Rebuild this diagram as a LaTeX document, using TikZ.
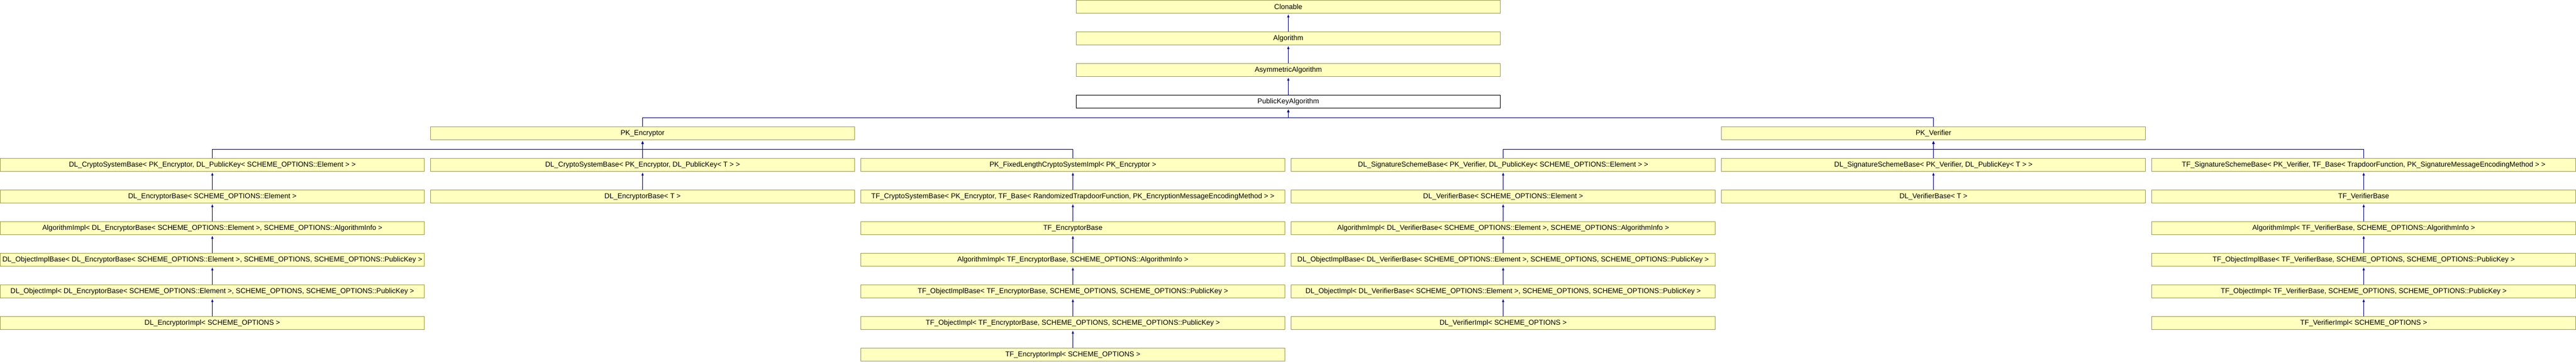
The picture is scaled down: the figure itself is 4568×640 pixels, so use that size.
\documentclass[tikz,border=0pt]{standalone}
\usepackage{fontspec}
\setmainfont{Liberation Sans}
\usetikzlibrary{arrows.meta}
\definecolor{clsfill}{RGB}{255,255,192}
\definecolor{clsline}{RGB}{158,158,88}
\definecolor{inhblue}{RGB}{0,0,128}
\begin{document}
\begin{tikzpicture}[x=1pt, y=-1pt, >={Latex[length=5pt,width=4.5pt]},
    cls/.style={draw=clsline, fill=clsfill, line width=1pt, minimum width=752pt,
        minimum height=23pt, inner sep=0pt, font=\fontsize{12.6}{15}\selectfont},
    cur/.style={cls, draw=black, fill=white},
    inh/.style={->, draw=inhblue, line width=1pt, shorten >=1.5pt}]
\useasboundingbox (0,0) rectangle (4568,640);
% common bases
\node[cls] (clonable) at (2284.5,12) {Clonable};
\node[cls] (algorithm) at (2284.5,68) {Algorithm};
\node[cls] (asymalg) at (2284.5,124) {AsymmetricAlgorithm};
\node[cur] (pkalg) at (2284.5,180) {PublicKeyAlgorithm};
\node[cls] (pkenc) at (1139.5,236) {PK\_Encryptor};
\node[cls] (pkver) at (3428.5,236) {PK\_Verifier};
% encryptor side
\node[cls] (dlcsbA) at (376.5,292) {DL\_CryptoSystemBase< PK\_Encryptor, DL\_PublicKey< SCHEME\_OPTIONS::Element > >};
\node[cls] (dlencA) at (376.5,348) {DL\_EncryptorBase< SCHEME\_OPTIONS::Element >};
\node[cls] (algimplA) at (376.5,404) {AlgorithmImpl< DL\_EncryptorBase< SCHEME\_OPTIONS::Element >, SCHEME\_OPTIONS::AlgorithmInfo >};
\node[cls] (dloibA) at (376.5,460) {DL\_ObjectImplBase< DL\_EncryptorBase< SCHEME\_OPTIONS::Element >, SCHEME\_OPTIONS, SCHEME\_OPTIONS::PublicKey >};
\node[cls] (dloiA) at (376.5,516) {DL\_ObjectImpl< DL\_EncryptorBase< SCHEME\_OPTIONS::Element >, SCHEME\_OPTIONS, SCHEME\_OPTIONS::PublicKey >};
\node[cls] (dlencimpl) at (376.5,572) {DL\_EncryptorImpl< SCHEME\_OPTIONS >};
\node[cls] (dlcsbB) at (1139.5,292) {DL\_CryptoSystemBase< PK\_Encryptor, DL\_PublicKey< T > >};
\node[cls] (dlencB) at (1139.5,348) {DL\_EncryptorBase< T >};
\node[cls] (pkflcsi) at (1902.5,292) {PK\_FixedLengthCryptoSystemImpl< PK\_Encryptor >};
\node[cls] (tfcsb) at (1902.5,348) {TF\_CryptoSystemBase< PK\_Encryptor, TF\_Base< RandomizedTrapdoorFunction, PK\_EncryptionMessageEncodingMethod > >};
\node[cls] (tfencbase) at (1902.5,404) {TF\_EncryptorBase};
\node[cls] (algimplC) at (1902.5,460) {AlgorithmImpl< TF\_EncryptorBase, SCHEME\_OPTIONS::AlgorithmInfo >};
\node[cls] (tfoibC) at (1902.5,516) {TF\_ObjectImplBase< TF\_EncryptorBase, SCHEME\_OPTIONS, SCHEME\_OPTIONS::PublicKey >};
\node[cls] (tfoiC) at (1902.5,572) {TF\_ObjectImpl< TF\_EncryptorBase, SCHEME\_OPTIONS, SCHEME\_OPTIONS::PublicKey >};
\node[cls] (tfencimpl) at (1902.5,628) {TF\_EncryptorImpl< SCHEME\_OPTIONS >};
% verifier side
\node[cls] (dlssbD) at (2665.5,292) {DL\_SignatureSchemeBase< PK\_Verifier, DL\_PublicKey< SCHEME\_OPTIONS::Element > >};
\node[cls] (dlverD) at (2665.5,348) {DL\_VerifierBase< SCHEME\_OPTIONS::Element >};
\node[cls] (algimplD) at (2665.5,404) {AlgorithmImpl< DL\_VerifierBase< SCHEME\_OPTIONS::Element >, SCHEME\_OPTIONS::AlgorithmInfo >};
\node[cls] (dloibD) at (2665.5,460) {DL\_ObjectImplBase< DL\_VerifierBase< SCHEME\_OPTIONS::Element >, SCHEME\_OPTIONS, SCHEME\_OPTIONS::PublicKey >};
\node[cls] (dloiD) at (2665.5,516) {DL\_ObjectImpl< DL\_VerifierBase< SCHEME\_OPTIONS::Element >, SCHEME\_OPTIONS, SCHEME\_OPTIONS::PublicKey >};
\node[cls] (dlverimpl) at (2665.5,572) {DL\_VerifierImpl< SCHEME\_OPTIONS >};
\node[cls] (dlssbE) at (3428.5,292) {DL\_SignatureSchemeBase< PK\_Verifier, DL\_PublicKey< T > >};
\node[cls] (dlverE) at (3428.5,348) {DL\_VerifierBase< T >};
\node[cls] (tfssb) at (4191.5,292) {TF\_SignatureSchemeBase< PK\_Verifier, TF\_Base< TrapdoorFunction, PK\_SignatureMessageEncodingMethod > >};
\node[cls] (tfverbase) at (4191.5,348) {TF\_VerifierBase};
\node[cls] (algimplF) at (4191.5,404) {AlgorithmImpl< TF\_VerifierBase, SCHEME\_OPTIONS::AlgorithmInfo >};
\node[cls] (tfoibF) at (4191.5,460) {TF\_ObjectImplBase< TF\_VerifierBase, SCHEME\_OPTIONS, SCHEME\_OPTIONS::PublicKey >};
\node[cls] (tfoiF) at (4191.5,516) {TF\_ObjectImpl< TF\_VerifierBase, SCHEME\_OPTIONS, SCHEME\_OPTIONS::PublicKey >};
\node[cls] (tfverimpl) at (4191.5,572) {TF\_VerifierImpl< SCHEME\_OPTIONS >};
% bus lines
\coordinate (busalg) at (2284.5,208.5);
\coordinate (busenc) at (1139.5,264.5);
\coordinate (busver) at (3428.5,264.5);
\draw[inh] (pkenc.north) |- (busalg) -- (pkalg.south);
\draw[inh] (pkver.north) |- (busalg) -- (pkalg.south);
\draw[inh] (dlcsbA.north) |- (busenc) -- (pkenc.south);
\draw[inh] (pkflcsi.north) |- (busenc) -- (pkenc.south);
\draw[inh] (dlssbD.north) |- (busver) -- (pkver.south);
\draw[inh] (tfssb.north) |- (busver) -- (pkver.south);
% straight inheritance
\foreach \sub/\base in {algorithm/clonable, asymalg/algorithm, pkalg/asymalg,
    dlcsbB/pkenc, dlencA/dlcsbA, algimplA/dlencA, dloibA/algimplA, dloiA/dloibA,
    dlencimpl/dloiA, dlencB/dlcsbB, tfcsb/pkflcsi, tfencbase/tfcsb,
    algimplC/tfencbase, tfoibC/algimplC, tfoiC/tfoibC, tfencimpl/tfoiC,
    dlssbE/pkver, dlverD/dlssbD, algimplD/dlverD, dloibD/algimplD, dloiD/dloibD,
    dlverimpl/dloiD, dlverE/dlssbE, tfverbase/tfssb, algimplF/tfverbase,
    tfoibF/algimplF, tfoiF/tfoibF, tfverimpl/tfoiF}
    \draw[inh] (\sub) -- (\base);
\end{tikzpicture}
\end{document}
